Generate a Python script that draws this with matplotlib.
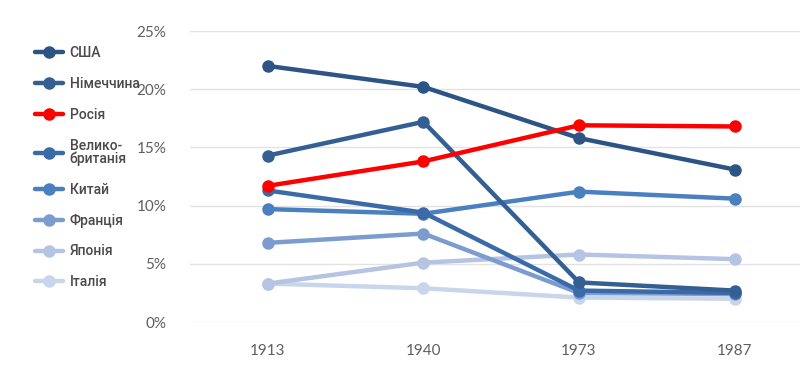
import matplotlib
matplotlib.use("Agg")
import matplotlib.pyplot as plt
from matplotlib.ticker import FuncFormatter

years = ["1913", "1940", "1973", "1987"]
countries = ["США", "Німеччина", "Росія", "Велико-\nбританія", "Китай", "Франція", "Японія", "Італія"]
usa = [22.0, 20.2, 15.8, 13.1]
germany = [14.3, 17.2, 3.4, 2.7]
russia = [11.7, 13.8, 16.9, 16.8]
uk = [11.3, 9.4, 2.7, 2.5]
china = [9.7, 9.3, 11.2, 10.6]
france = [6.8, 7.6, 2.5, 2.4]
japan = [3.3, 5.1, 5.8, 5.4]
italy = [3.3, 2.9, 2.1, 2.0]
series = [usa, germany, russia, uk, china, france, japan, italy]
colors = ["#2c5585", "#335f93", "#ff0000", "#3a6aa8", "#4a7fc0", "#7c9ccf", "#b5c4e3", "#c9d5eb"]

plt.rcParams['font.family'] = ['Roboto', 'DejaVu Sans']

fig = plt.figure(figsize=(8, 3.75), dpi=100)
ax = fig.add_axes([0.2375, 0.1413, 0.7625, 0.776])

x = range(len(years))
handles = []
for i in reversed(range(len(series))):
    z = 5 if countries[i] == "Росія" else 3 + (len(series) - i) * 0.1
    h, = ax.plot(x, series[i], color=colors[i], lw=3.2, marker='o', ms=8,
                 solid_capstyle='round', zorder=z, label=countries[i])
    handles.append(h)
handles = handles[::-1]

ax.set_ylim(0, 25)
ax.set_xlim(-0.5, 3.42)
ax.set_yticks([0, 5, 10, 15, 20, 25])
ax.yaxis.set_major_formatter(FuncFormatter(lambda v, p: f"{int(v)}%"))
ax.set_xticks(list(x))
ax.set_xticklabels(years)
ax.grid(axis='y', color='#e3e3e3', lw=1)
ax.set_axisbelow(True)
for s in ax.spines.values():
    s.set_visible(False)
ax.tick_params(length=0, colors='#5f5f5f', labelsize=11)
ax.tick_params(axis='y', pad=17)
ax.tick_params(axis='x', pad=16)
for lab in ax.get_xticklabels() + ax.get_yticklabels():
    lab.set_family(['Lato', 'DejaVu Sans'])

leg = fig.legend(handles=handles, labels=countries, loc='upper left',
                 bbox_to_anchor=(0.028, 0.91), frameon=False, fontsize=10,
                 handlelength=2.0, handletextpad=0.5, labelspacing=1.21,
                 labelcolor='#4a4a4a')
for t in leg.get_texts():
    t.set_fontweight('medium')
    t.set_linespacing(0.9)

fig.savefig("out.png", dpi=100)
